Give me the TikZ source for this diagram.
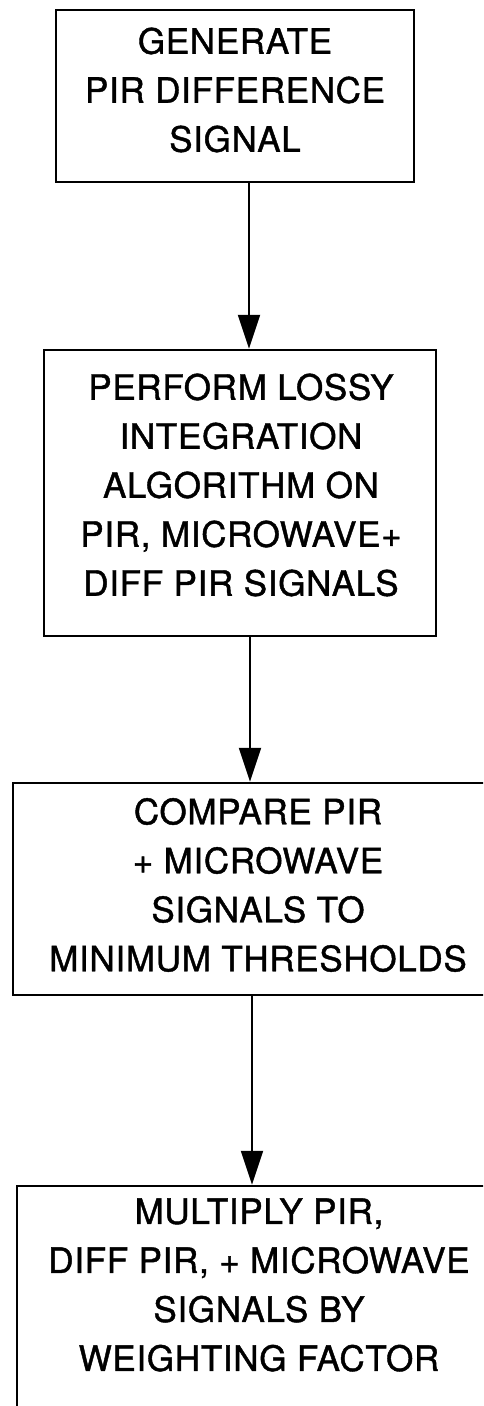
\documentclass[tikz,border=0pt]{standalone}
\usepackage{fontspec}
\setmainfont{TeX Gyre Heros}[LetterSpace=2.0, FakeBold=1.2]
\usetikzlibrary{arrows.meta}
\begin{document}
\begin{tikzpicture}[x=1pt,y=-1pt,
  box/.style={draw, line width=2.5pt, inner sep=0pt},
  lbl/.style={align=center, font=\fontsize{35}{49}\selectfont, inner sep=0pt},
  flow/.style={line width=2pt, -{Triangle[length=34pt,width=22pt]}}]
\useasboundingbox (0,0) rectangle (483,1406);
\fill[white] (0,0) rectangle (483,1406);
\clip (0,0) rectangle (483,1406);
% boxes
\node[box, minimum width=358pt, minimum height=172pt] (b1) at (235,96) {};
\node[lbl] (t1) at (235,90) {GENERATE\\PIR DIFFERENCE\\SIGNAL};
\node[box, minimum width=392pt, minimum height=286pt] (b2) at (240,493) {};
\node[lbl] (t2) at (241,485) {PERFORM LOSSY\\INTEGRATION\\ALGORITHM ON\\PIR, MICROWAVE+\\DIFF PIR SIGNALS};
\node[box, minimum width=477pt, minimum height=212pt] (b3) at (251.5,889) {};
\node[lbl] (t3) at (258,885) {COMPARE PIR\\+ MICROWAVE\\SIGNALS TO\\MINIMUM THRESHOLDS};
\node[box, minimum width=484pt, minimum height=244pt] (b4) at (259,1308) {};
\node[lbl] (t4) at (259,1285) {MULTIPLY PIR,\\DIFF PIR, + MICROWAVE\\SIGNALS BY\\WEIGHTING FACTOR};
% connectors
\draw[flow] ([xshift=14pt]b1.south) -- ([xshift=14pt]b1.south |- b2.north);
\draw[flow] ([xshift=10pt]b2.south) -- ([xshift=10pt]b2.south |- b3.north);
\draw[flow] ([xshift=0.5pt]b3.south) -- ([xshift=0.5pt]b3.south |- b4.north);
\end{tikzpicture}
\end{document}
